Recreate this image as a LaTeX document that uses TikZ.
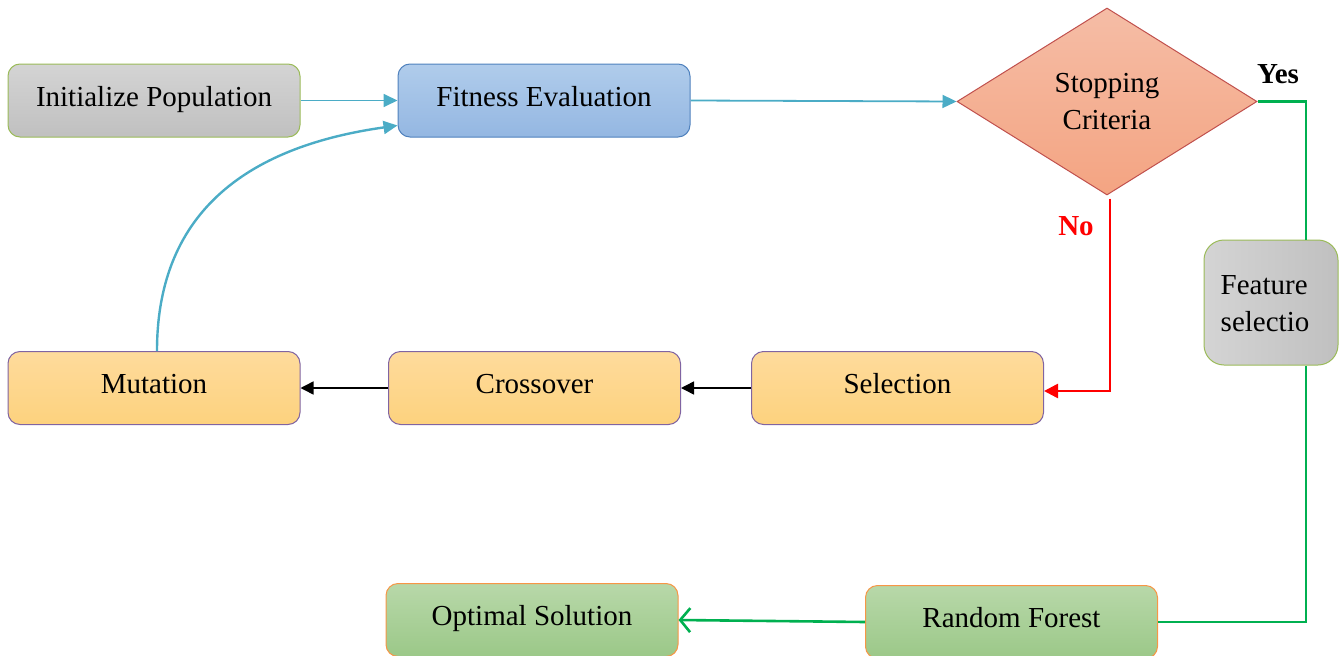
\documentclass[tikz,border=0pt]{standalone}
\usepackage{fontspec}
\setmainfont{Liberation Serif}
\usetikzlibrary{arrows.meta,shapes.geometric}
\definecolor{teal1}{HTML}{4BACC6}
\definecolor{green1}{HTML}{00B050}
\definecolor{grayT}{HTML}{D4D4D4}
\definecolor{grayB}{HTML}{C0C0C0}
\definecolor{grayE}{HTML}{9BBB59}
\definecolor{blueT}{HTML}{B0CCEB}
\definecolor{blueB}{HTML}{94B7E2}
\definecolor{blueE}{HTML}{4F81BD}
\definecolor{salT}{HTML}{F5BDA6}
\definecolor{salB}{HTML}{F4A482}
\definecolor{salE}{HTML}{C0504D}
\definecolor{orT}{HTML}{FEDB9C}
\definecolor{orB}{HTML}{FDD27E}
\definecolor{orE}{HTML}{8064A2}
\definecolor{grT}{HTML}{B8D8A9}
\definecolor{grB}{HTML}{9BC888}
\definecolor{grE}{HTML}{F79646}
\tikzset{
  txt/.style={font=\fontsize{29}{37}\selectfont, align=center, inner sep=0pt},
  box/.style={txt, text height=20pt, text depth=9pt, rectangle, rounded corners=12pt, line width=1pt, minimum width=292pt, minimum height=73pt},
  graybox/.style={box, draw=grayE, top color=grayT, bottom color=grayB},
  bluebox/.style={box, draw=blueE, top color=blueT, bottom color=blueB},
  orbox/.style={box, draw=orE, top color=orT, bottom color=orB},
  grbox/.style={box, draw=grE, top color=grT, bottom color=grB},
  tealarr/.style={draw=teal1, line width=1.8pt, -{Triangle[length=14pt,width=13pt]}},
  blackarr/.style={draw=black, line width=1.5pt, -{Triangle[length=13pt,width=13pt]}},
  redarr/.style={draw=red, line width=2.6pt, -{Triangle[length=14pt,width=14pt]}},
  greenline/.style={draw=green1, line width=2.6pt},
  bold/.style={txt, font=\fontsize{29}{37}\selectfont\bfseries},
}
\begin{document}
\begin{tikzpicture}[x=1pt,y=-1pt]
\useasboundingbox (0,0) rectangle (1342,656);
\node[graybox] (init) at (154,100.5) {Initialize Population};
\node[bluebox] (fit) at (544,100.5) {Fitness Evaluation};
\node[diamond, draw=salE, line width=1pt, top color=salT, bottom color=salB,
      minimum width=300pt, minimum height=187pt, inner sep=0pt, txt] (dia) at (1107,101.5) {Stopping\\Criteria};
\node[rectangle, rounded corners=20pt, line width=1pt, draw=grayE, left color=grayT, right color=grayB,
      minimum width=134pt, minimum height=125pt, inner sep=0pt] (feat) at (1271,302.5) {};
\node[txt, align=left] (feattext) at (1265,304) {Feature\\selectio};
\node[orbox] (mut) at (154,388) {Mutation};
\node[orbox] (cro) at (534.5,388) {Crossover};
\node[orbox] (sel) at (897.5,388) {Selection};
\node[grbox] (opt) at (532,620) {Optimal Solution};
\node[grbox] (rf) at (1011.5,622) {Random Forest};
\node[bold] (yes) at (1278,74) {Yes};
\node[bold, text=red] (no) at (1076,226) {No};
% connectors
\draw[tealarr] (init.east) -- (fit.west);
\draw[tealarr] (fit.east) -- (dia.west);
\draw[tealarr, line width=2.4pt] ([xshift=3pt]mut.north) to[out=90,in=188,looseness=1.12] ([yshift=-25pt]fit.west);
\draw[blackarr] (sel.west) -- (cro.east);
\draw[blackarr] (cro.west) -- (mut.east);
\draw[redarr] ([xshift=3pt,yshift=-3pt]dia.south) |- ([yshift=-3pt]sel.east);
\draw[greenline] (dia.east) -| ([xshift=35pt]feat.north);
\draw[greenline] ([xshift=35pt]feat.south) |- (rf.east);
\draw[greenline, -{Straight Barb[length=10pt,width=24pt]}] (rf.west) -- (opt.east);
\end{tikzpicture}
\end{document}
